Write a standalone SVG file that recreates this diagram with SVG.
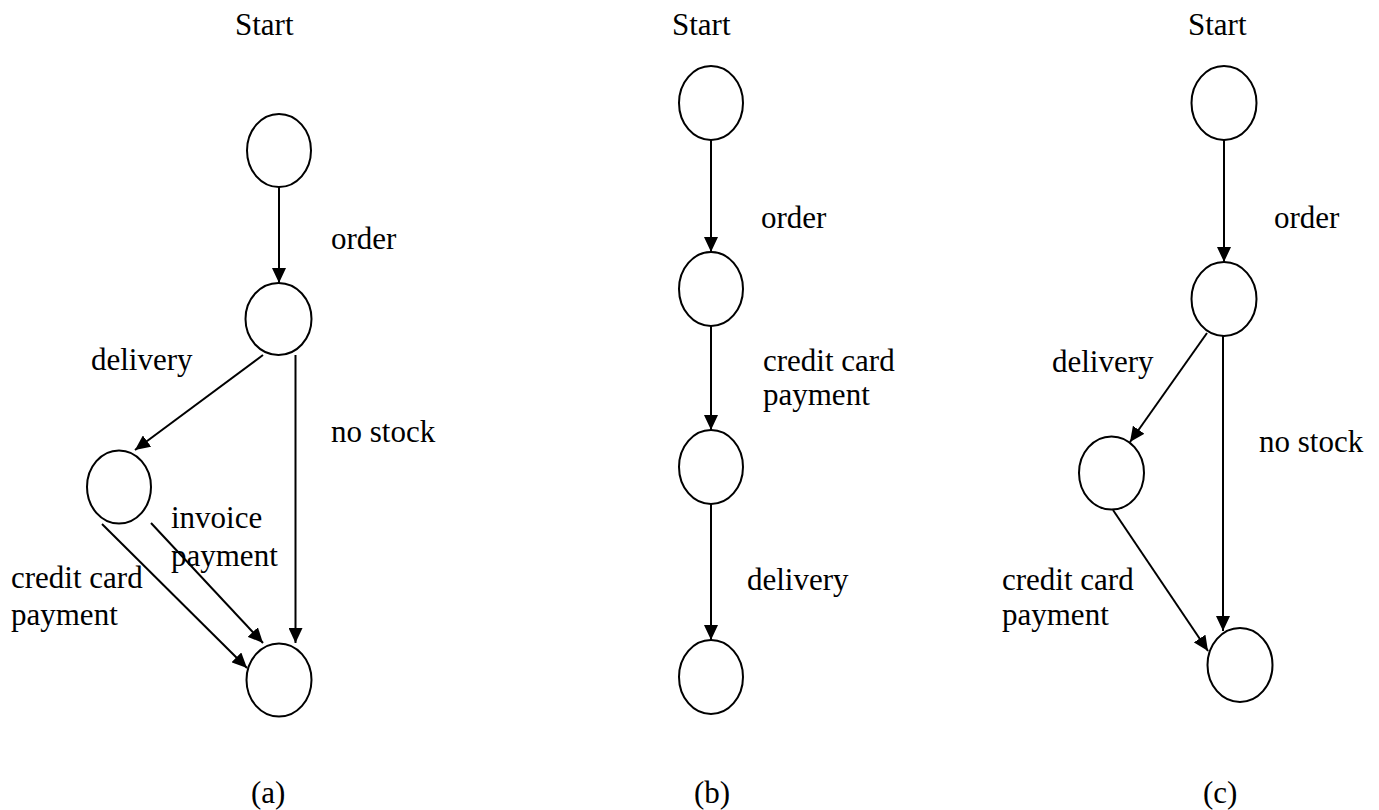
<svg xmlns="http://www.w3.org/2000/svg" width="1379" height="810" viewBox="0 0 1379 810">
<defs>
<marker id="arr" markerUnits="userSpaceOnUse" markerWidth="16" markerHeight="14" refX="15" refY="7" orient="auto">
<path d="M0,0 L15,7 L0,14 Z" fill="#000"/>
</marker>
<style>
text{font-family:"Liberation Serif","Times New Roman",serif;font-size:31px;fill:#000}
.n{fill:#fff;stroke:#000;stroke-width:2}
.e{stroke:#000;stroke-width:2;fill:none;marker-end:url(#arr)}
</style>
</defs>
<rect width="1379" height="810" fill="#fff"/>
<g id="connectors">
<line class="e" x1="279" y1="187" x2="279" y2="283"/>
<line class="e" x1="263" y1="355" x2="135" y2="450"/>
<line class="e" x1="295.5" y1="355" x2="295.5" y2="643"/>
<line class="e" x1="102" y1="524" x2="247" y2="668"/>
<line class="e" x1="151" y1="523" x2="263" y2="643"/>
<line class="e" x1="711" y1="140" x2="711" y2="252"/>
<line class="e" x1="711" y1="326" x2="711" y2="430"/>
<line class="e" x1="711" y1="504" x2="711" y2="640"/>
<line class="e" x1="1224" y1="140" x2="1224" y2="262"/>
<line class="e" x1="1207" y1="333" x2="1130" y2="442"/>
<line class="e" x1="1223" y1="336" x2="1223" y2="631"/>
<line class="e" x1="1113" y1="510" x2="1208" y2="651"/>
</g>
<g id="a-start"><text x="235" y="35">Start</text></g>
<g id="a1"><ellipse class="n" cx="279" cy="150.5" rx="32" ry="36.5"/></g>
<g id="a2"><ellipse class="n" cx="278.5" cy="319" rx="33" ry="36"/></g>
<g id="a3"><ellipse class="n" cx="119" cy="487" rx="32" ry="36.5"/></g>
<g id="a4"><ellipse class="n" cx="279" cy="680" rx="32.5" ry="36.5"/></g>
<g id="a-labels">
<text x="331" y="249">order</text>
<text x="91" y="370">delivery</text>
<text x="331" y="442">no stock</text>
<text x="171" y="528">invoice</text>
<text x="171" y="566">payment</text>
<text x="11" y="588">credit card</text>
<text x="11" y="625">payment</text>
<text x="251" y="803">(a)</text>
</g>
<g id="b-start"><text x="672" y="35">Start</text></g>
<g id="b1"><ellipse class="n" cx="711" cy="103" rx="32" ry="37"/></g>
<g id="b2"><ellipse class="n" cx="711" cy="289" rx="32" ry="37"/></g>
<g id="b3"><ellipse class="n" cx="711" cy="467" rx="32" ry="37"/></g>
<g id="b4"><ellipse class="n" cx="711" cy="677" rx="32" ry="37"/></g>
<g id="b-labels">
<text x="761" y="228">order</text>
<text x="763" y="371">credit card</text>
<text x="763" y="405">payment</text>
<text x="747" y="590">delivery</text>
<text x="694" y="803">(b)</text>
</g>
<g id="c-start"><text x="1188" y="35">Start</text></g>
<g id="c1"><ellipse class="n" cx="1224" cy="103" rx="32.5" ry="37"/></g>
<g id="c2"><ellipse class="n" cx="1224" cy="299" rx="32.5" ry="37"/></g>
<g id="c3"><ellipse class="n" cx="1111.5" cy="473" rx="32.5" ry="36.5"/></g>
<g id="c4"><ellipse class="n" cx="1240" cy="665" rx="32.5" ry="37"/></g>
<g id="c-labels">
<text x="1274" y="228">order</text>
<text x="1052" y="372">delivery</text>
<text x="1259" y="452">no stock</text>
<text x="1002" y="590">credit card</text>
<text x="1002" y="625">payment</text>
<text x="1203" y="803">(c)</text>
</g>
</svg>
